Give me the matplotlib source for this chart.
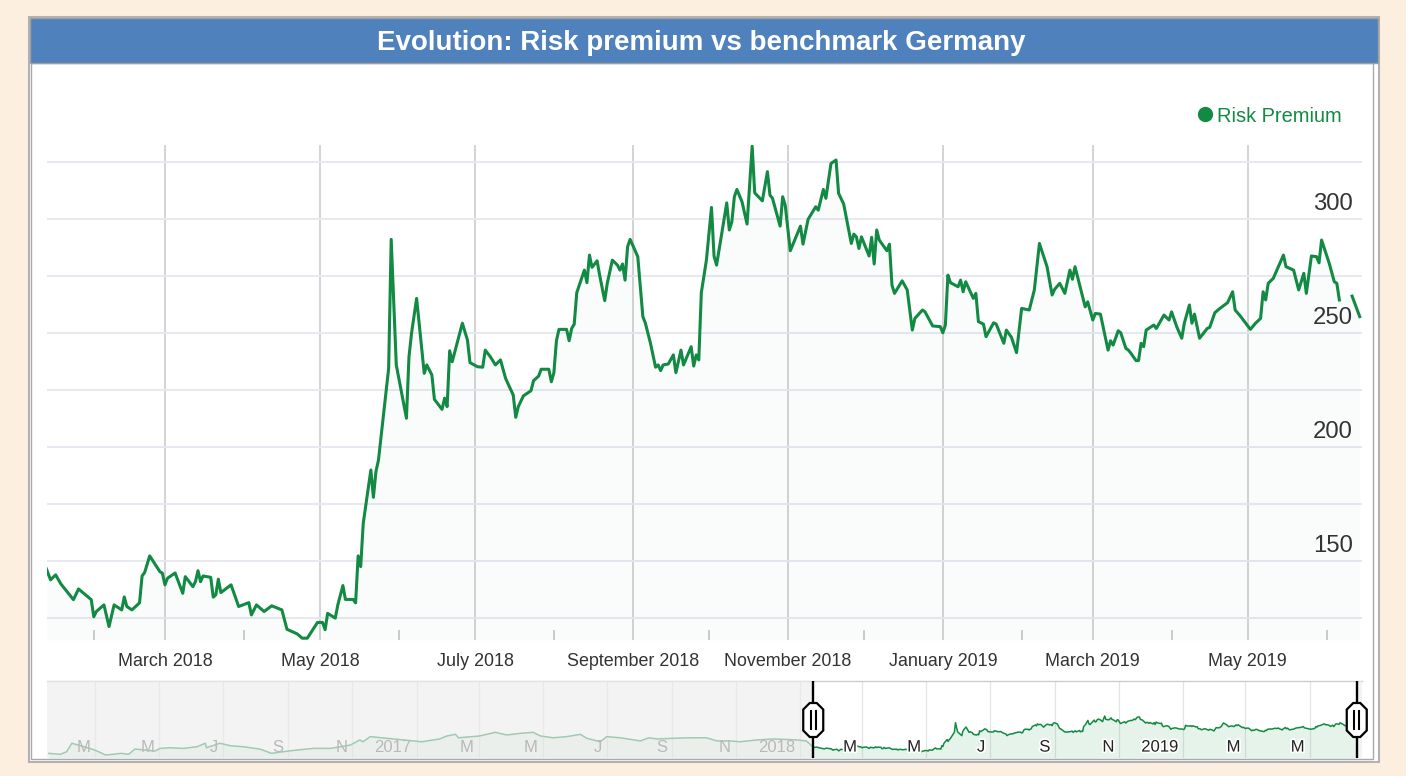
import numpy as np
import pandas as pd
import matplotlib
matplotlib.use("Agg")
import matplotlib.pyplot as plt
import matplotlib.dates as mdates
from matplotlib.patches import Rectangle, Polygon
from matplotlib.lines import Line2D
import matplotlib.patheffects as pe

plt.rcParams['font.family'] = ['Liberation Sans', 'DejaVu Sans']

# ---------------- data ----------------
BASE = pd.Timestamp("2018-03-01")          # reference day for the offsets below
series_name = "Risk Premium"
title = "Evolution: Risk premium vs benchmark Germany"

# main series: days since 2018-03-01, value (basis points)
day_offsets = [
    -47, -45, -43, -41, -36, -34, -29, -28, -27, -24, -22, -20, -17, -16, -15, -13,
    -10, -9, -8, -6, -2, -1, 0, 1, 4, 7, 8, 11, 12, 13, 14, 15, 18, 19, 20, 21, 22,
    26, 29, 33, 34, 36, 39, 42, 46, 48, 50, 52, 54, 56, 60, 62, 63, 64, 67, 68, 70,
    71, 74, 75, 76, 77, 78, 81, 82, 83, 84, 88, 89, 91, 95, 96, 97, 99, 102, 103,
    105, 106, 109, 110, 111, 112, 113, 117, 119, 120, 123, 125, 126, 128, 130, 132,
    134, 137, 138, 139, 141, 144, 145, 147, 148, 151, 152, 153, 154, 155, 158, 159,
    160, 161, 162, 165, 166, 167, 168, 170, 171, 173, 174, 176, 178, 179, 180, 181,
    182, 183, 186, 188, 189, 191, 193, 194, 195, 196, 198, 200, 201, 203, 204, 207,
    208, 209, 210, 211, 213, 215, 216, 217, 221, 222, 223, 224, 225, 227, 229, 231,
    232, 235, 237, 238, 239, 242, 243, 244, 246, 250, 251, 253, 256, 257, 259, 260,
    262, 264, 265, 267, 270, 271, 272, 273, 274, 277, 278, 279, 280, 281, 284, 285,
    286, 287, 290, 292, 294, 295, 298, 299, 302, 305, 306, 307, 308, 309, 312, 313,
    314, 315, 318, 319, 320, 322, 323, 326, 327, 330, 331, 333, 335, 337, 340, 342,
    344, 347, 349, 350, 352, 354, 356, 357, 358, 360, 362, 363, 365, 366, 368, 371,
    372, 373, 375, 376, 378, 379, 380, 382, 383, 384, 385, 386, 389, 390, 393, 395,
    396, 398, 400, 401, 403, 404, 405, 407, 410, 411, 413, 415, 418, 420, 421, 423,
    427, 429, 431, 432, 433, 434, 436, 440, 441, 444, 446, 448, 449, 451, 453, 454,
    455, 458, 460, 461, 462, 464, 467, 470,
]
risk_premium = [
    147.5, 141.7, 143.9, 140.0, 133.0, 137.7, 133.0, 125.5, 127.8, 130.7, 121.2, 130.7, 128.5, 134.2, 130.0, 128.5,
    131.6, 143.4, 144.9, 152.2, 145.3, 144.6, 139.5, 142.4, 144.7, 135.8, 143.1, 138.7, 140.9, 145.7, 140.9, 143.4, 142.8, 134.1, 135.1, 142.0, 136.1,
    139.5, 130.0, 131.7, 126.3, 130.7, 127.8, 130.3, 128.5, 120.0, 119.0, 118.0, 116.1, 116.1, 123.0, 123.0, 119.8, 127.0, 124.9, 130.7, 139.2,
    133.1, 133.1, 131.6, 152.2, 147.5, 166.5, 189.9, 177.9, 189.2, 194.3, 234.5, 291.1, 236.0, 212.6, 239.6, 249.9, 265.2, 232.3, 236.0,
    231.6, 220.9, 216.5, 221.4, 217.7, 242.2, 237.4, 254.3, 246.9, 237.0, 235.2, 235.0, 242.5, 239.6, 236.0, 238.2,
    230.1, 222.8, 213.0, 217.7, 222.4, 224.7, 229.1, 231.1, 234.1, 234.1, 228.6, 232.6, 246.6, 251.6, 251.6, 246.6,
    252.0, 253.9, 267.7, 277.6, 272.1, 284.2, 278.8, 281.7, 275.4, 264.2, 271.8, 282.0, 279.8, 277.6, 280.3, 273.2,
    287.9, 291.1, 283.5, 257.2, 254.3, 245.5, 235.0, 236.0, 233.5, 236.0, 236.4, 240.4, 232.6, 242.5, 236.0, 244.0,
    235.5, 240.4, 238.2, 267.7, 282.0, 305.1, 283.8, 279.8, 307.1, 295.2, 298.8, 309.8, 313.0, 307.6, 297.8, 332.0,
    311.5, 308.0, 320.8, 310.5, 309.1, 296.9, 309.8, 306.1, 286.1, 296.9, 289.0, 299.9, 305.4, 303.9, 313.0, 309.1,
    324.4, 325.9, 311.3, 306.6, 289.3, 293.4, 292.2, 287.1, 292.2, 283.8, 292.0, 280.3, 295.2, 290.8, 286.1, 289.0,
    271.0, 267.4, 272.9, 268.9, 251.3, 256.4, 260.1, 259.3, 253.1, 252.8, 250.1, 253.5, 275.4, 272.1, 270.3, 273.2,
    268.1, 272.5, 265.2, 267.4, 255.0, 253.9, 248.4, 254.5, 253.9, 245.5, 251.3, 248.1, 241.4, 260.8, 260.1, 268.9,
    289.3, 279.1, 266.7, 269.2, 271.8, 267.4, 277.6, 273.6, 279.1, 270.3, 261.5, 263.7, 255.7, 258.6, 258.3, 242.5,
    246.6, 244.7, 251.0, 250.1, 243.3, 242.5, 241.1, 237.9, 237.9, 245.5, 244.0, 251.3, 253.5, 252.0, 257.9, 255.7,
    259.3, 252.8, 247.7, 254.3, 262.3, 254.3, 258.3, 247.7, 252.0, 252.5, 258.9, 260.8, 263.3, 268.1, 260.1, 257.5,
    251.6, 254.3, 256.4, 268.1, 264.5, 271.8, 274.0, 284.2, 279.1, 277.6, 268.9, 276.2, 267.4, 283.8, 283.5, 280.8,
    290.8, 280.6, 272.5, 271.8, 264.5, np.nan, 266.2, 257.2,
]

# older history, only visible in the navigator (days since 2018-03-01)
history_offsets = [
    -774, -763, -757, -752, -733, -728, -720, -713, -705, -698, -692, -673, -668, -659,
    -646, -633, -625, -624, -611, -601, -589, -573, -562, -551, -538, -522, -506, -487,
    -478, -475, -468, -427, -419, -402, -395, -387, -384, -364, -349, -338, -325, -313,
    -306, -294, -281, -268, -262, -249, -243, -230, -211, -203, -195, -180, -164, -148,
    -138, -126, -116, -100, -84, -62, -53,
]
history_values = [
    106, 100, 116, 167, 132, 120, 96, 100, 106, 100, 132, 120, 136, 140,
    136, 146, 167, 140, 167, 152, 146, 132, 106, 116, 126, 136, 136, 156,
    187, 176, 207, 181, 176, 193, 211, 221, 200, 211, 233, 217, 227, 233,
    211, 200, 207, 221, 197, 176, 207, 200, 181, 200, 193, 197, 200, 200,
    181, 181, 176, 187, 193, 187, 181,
]

# view windows (days since 2018-03-01)
main_window = (-46.4, 470.9)
nav_window = (-775.7, 475.9)
main_ylim = (115.3, 332.5)
nav_ylim = (78, 543)
y_label_values = [150, 200, 250, 300]
y_grid_values = [125, 150, 175, 200, 225, 250, 275, 300, 325]

# ---------------- helpers ----------------
GREEN = '#128a43'
W, H = 1406, 776

def to_dates(offs):
    return BASE + pd.to_timedelta(np.asarray(offs, dtype=float), unit="D")

dates = to_dates(day_offsets)
values = np.array(risk_premium, dtype=float)
ok = ~np.isnan(values)
nav_dates = to_dates(list(history_offsets) + list(day_offsets))
nav_values = np.array(list(history_values) + list(risk_premium), dtype=float)
nok = ~np.isnan(nav_values)

main_lo, main_hi = to_dates(main_window)
nav_lo, nav_hi = to_dates(nav_window)

fig = plt.figure(figsize=(W / 100, H / 100), dpi=100)
fig.patch.set_facecolor('#fdefe0')

def prect(x0, y0, x1, y1, **kw):
    r = Rectangle((x0 / W, 1 - y1 / H), (x1 - x0) / W, (y1 - y0) / H,
                  transform=fig.transFigure, **kw)
    fig.add_artist(r)
    return r

# panel frame
prect(29, 17, 1379, 762, facecolor='white', edgecolor='#b2b2b2', lw=1.5, zorder=-3)
prect(31, 63, 1373, 759, facecolor='none', edgecolor='#a9a9a9', lw=1.0, zorder=-2)
prect(30, 18, 1378, 63, facecolor='#4f81bd', edgecolor='#a0a0a0', lw=1.0, zorder=-1)

fig.text(701.5 / W, 1 - 50.5 / H, title, ha='center', va='baseline',
         color='white', fontsize=20, fontweight='bold')

# legend
fig.add_artist(Line2D([1205 / W], [1 - 114 / H], marker='o', ms=11, color=GREEN,
                      markeredgewidth=0, transform=fig.transFigure))
fig.text(1217 / W, 1 - 121.5 / H, series_name, ha='left', va='baseline',
         color=GREEN, fontsize=14.4)

# ---------------- main axes ----------------
ax = fig.add_axes([47 / W, 1 - 640 / H, (1362 - 47) / W, (640 - 145) / H])
ax.set_facecolor('white')
ax.fill_between(dates[ok], values[ok], main_ylim[0], color=GREEN, alpha=0.025, lw=0, zorder=2)
ax.plot(dates, values, color=GREEN, lw=2.2, solid_joinstyle='round', zorder=3)
ax.set_xlim(main_lo, main_hi)
ax.set_ylim(*main_ylim)

for s in ax.spines.values():
    s.set_visible(False)

ax.set_yticks(y_grid_values)
ax.yaxis.grid(True, color='#e8e8f0', lw=1.4, zorder=0)
ax.tick_params(axis='y', length=0, labelleft=False, labelright=False)
for v in y_label_values:
    ax.annotate(str(v), xy=(1, v), xycoords=('axes fraction', 'data'),
                xytext=(-6.5, 6.5), textcoords='offset points',
                ha='right', va='baseline', fontsize=17.2, color='#333333')

ax.xaxis.set_major_locator(mdates.MonthLocator(bymonth=[1, 3, 5, 7, 9, 11]))
ax.xaxis.set_major_formatter(mdates.DateFormatter('%B %Y'))
ax.xaxis.set_minor_locator(mdates.MonthLocator(bymonth=[2, 4, 6, 8, 10, 12]))
ax.xaxis.grid(True, which='major', color='#d3d3d3', lw=1.4, zorder=0)
ax.tick_params(axis='x', which='major', length=0, pad=9.5, labelsize=12.9,
               labelcolor='#333333')
ax.tick_params(axis='x', which='minor', direction='in', length=7, width=1.4,
               color='#cccccc')
ax.set_axisbelow(True)

# ---------------- navigator ----------------
axn = fig.add_axes([47 / W, 1 - 758 / H, (1362 - 47) / W, 77 / H])
axn.set_facecolor('white')
axn.fill_between(nav_dates[nok], nav_values[nok], nav_ylim[0], color=GREEN, alpha=0.1, lw=0, zorder=2)
axn.plot(nav_dates, nav_values, color=GREEN, lw=1.1, zorder=3)
axn.set_xlim(nav_lo, nav_hi)
axn.set_ylim(*nav_ylim)
for k, s in axn.spines.items():
    s.set_visible(k == 'top')
axn.spines['top'].set_color('#cccccc')
axn.spines['top'].set_linewidth(1.0)
axn.set_yticks([])
nav_ticks = pd.date_range("2016-01-01", "2019-12-01", freq="2MS")
nav_ticks = [t for t in nav_ticks if nav_lo < t < nav_hi]
axn.set_xticks(nav_ticks)
axn.xaxis.grid(True, color='#e4e4e4', lw=0.9, zorder=1)
axn.tick_params(axis='x', length=0, labelbottom=False)

# mask outside the selected window
axn.axvspan(nav_lo, main_lo, color='#ededed', alpha=0.65, lw=0, zorder=5)
axn.axvspan(main_hi, nav_hi, color='#ededed', alpha=0.65, lw=0, zorder=5)

for t in nav_ticks:
    lab = str(t.year) if t.month == 1 else t.strftime('%B')[0]
    inside = main_lo <= t <= main_hi
    kw = dict(color='#222222',
              path_effects=[pe.withStroke(linewidth=2.5, foreground='white')]) if inside \
        else dict(color='#b9b9b9')
    axn.annotate(lab, xy=(t, 0), xycoords=('data', 'axes fraction'),
                 xytext=(-3.6, 4.6), textcoords='offset points',
                 ha='right', va='baseline', fontsize=12, zorder=6, **kw)

# handles
for d in (main_lo, main_hi):
    axn.axvline(d, color='black', lw=1.7, zorder=7)

fig.canvas.draw()
yc = H - 720.0
hw, hh, c = 10.0, 17.0, 6.5
for d in (main_lo, main_hi):
    xc = axn.transData.transform((mdates.date2num(d), 0))[0]
    pts = [(-hw, -hh + c), (-hw, hh - c), (-hw + c, hh), (hw - c, hh),
           (hw, hh - c), (hw, -hh + c), (hw - c, -hh), (-hw + c, -hh)]
    poly = Polygon([((xc + px) / W, (yc + py) / H) for px, py in pts], closed=True,
                   transform=fig.transFigure, facecolor='white', edgecolor='black',
                   lw=1.6, zorder=10)
    fig.add_artist(poly)
    for dx in (-2.3, 2.3):
        fig.add_artist(Line2D([(xc + dx) / W] * 2, [(yc - 9) / H, (yc + 9) / H],
                              color='black', lw=1.5, transform=fig.transFigure, zorder=11))

fig.savefig('out.png', dpi=100, facecolor=fig.get_facecolor())
